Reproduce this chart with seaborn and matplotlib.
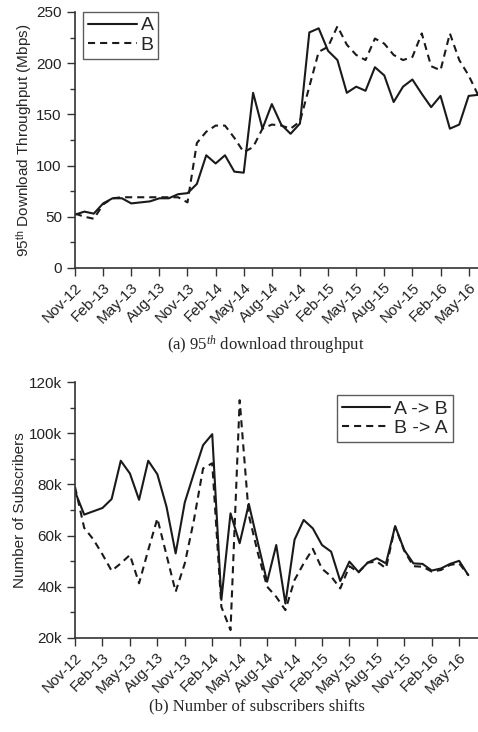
import numpy as np
import pandas as pd
import matplotlib
matplotlib.use("Agg")
import matplotlib.pyplot as plt
from matplotlib.ticker import MultipleLocator, FuncFormatter
import seaborn as sns

sns.set_style("ticks")
plt.rcParams["font.family"] = ["Liberation Sans", "DejaVu Sans"]
plt.rcParams["mathtext.fontset"] = "custom"
plt.rcParams["mathtext.rm"] = "Liberation Sans"
plt.rcParams["mathtext.it"] = "Liberation Serif:italic"

# monthly data, Nov-12 .. Jun-16
months = pd.date_range("2012-11-01", "2016-06-01", freq="MS").strftime("%b-%y").tolist()
tick_labels = months[::3]

# 95th percentile download throughput (Mbps)
thr_A = [52, 55, 53, 63, 68, 68, 63, 64, 65, 68, 68, 72, 73, 82, 110, 102, 110, 94, 93, 171,
         136, 160, 140, 131, 141, 230, 234, 212, 203, 171, 177, 173, 196, 188, 162, 177, 184,
         170, 157, 168, 136, 140, 168, 169]
thr_B = [53, 50, 48, 62, 68, 69, 69, 69, 69, 69, 69, 69, 64, 122, 133, 139, 139, 127, 113, 118,
         136, 140, 139, 136, 143, 177, 211, 216, 236, 218, 208, 203, 224, 219, 208, 203, 206,
         229, 197, 193, 229, 203, 188, 169]

# subscriber shifts (thousands)
shift_AB = [77.2, 68.2, 69.5, 70.8, 74.3, 89.3, 84.3, 74.0, 89.3, 84.0, 71.3, 53.0, 73.0, 84.4,
            95.4, 99.7, 34.8, 68.7, 57.0, 72.4, 57.0, 41.9, 56.3, 33.4, 58.4, 66.1, 62.8, 56.3,
            53.7, 42.2, 49.8, 45.7, 49.4, 51.1, 49.1, 63.7, 54.3, 49.1, 48.9, 46.3, 47.1, 48.9,
            50.1, 44.5]
shift_BA = [79.0, 63.0, 58.5, 52.6, 46.2, 49.1, 52.4, 41.3, 54.3, 66.7, 52.4, 38.0, 49.1, 66.1,
            86.3, 88.3, 32.1, 23.0, 113.0, 68.0, 53.0, 40.0, 36.0, 30.8, 42.6, 49.1, 54.8, 47.0,
            44.0, 39.3, 48.0, 45.6, 49.4, 49.8, 47.2, 63.5, 54.0, 48.0, 47.8, 45.9, 46.5, 48.5,
            49.1, 44.5]

df = pd.DataFrame({"idx": np.arange(len(months)), "month": months,
                   "A": thr_A, "B": thr_B, "AB": shift_AB, "BA": shift_BA})

dash = (0, (3.4, 2.4))
fig = plt.figure(figsize=(4.78, 7.32), dpi=100)
ax1 = fig.add_axes([0.157, 0.634, 0.843, 0.3497])
ax2 = fig.add_axes([0.157, 0.1288, 0.843, 0.3489])


def style_axis(ax, xmax):
    ax.set_xlim(0, xmax)
    ax.set_xticks(np.arange(0, len(months), 3))
    ax.set_xticklabels(tick_labels, rotation=45, ha="right", rotation_mode="anchor")
    ax.tick_params(axis="both", which="major", direction="out", length=6, width=1,
                   labelsize=11, color="#333333", labelcolor="#222222")
    ax.tick_params(axis="y", which="minor", direction="out", length=3.5, width=1, color="#333333")
    ax.tick_params(axis="x", which="major", pad=3)
    for s in ["top", "right"]:
        ax.spines[s].set_visible(False)
    for s in ["left", "bottom"]:
        ax.spines[s].set_linewidth(1.2)
        ax.spines[s].set_color("#333333")


# --- (a) throughput ---
sns.lineplot(data=df, x="idx", y="A", ax=ax1, color="#1a1a1a", lw=1.5, label="A")
sns.lineplot(data=df, x="idx", y="B", ax=ax1, color="#1a1a1a", lw=1.5, ls=dash, label="B")
style_axis(ax1, len(months) - 1)
ax1.set_ylim(0, 250)
ax1.yaxis.set_major_locator(MultipleLocator(50))
ax1.yaxis.set_minor_locator(MultipleLocator(25))
ax1.set_xlabel("")
ax1.set_ylabel(r"95$^{\mathrm{th}}$ Download Throughput (Mbps)", fontsize=11, labelpad=1)
leg = ax1.legend(loc="upper left", bbox_to_anchor=(0.02, 1.0), fontsize=14, frameon=True,
                 fancybox=False, edgecolor="#333333", handlelength=2.5, handletextpad=0.2,
                 borderpad=0.25, labelspacing=0.1, borderaxespad=0)
leg.get_frame().set_linewidth(1.0)

# --- (b) subscribers ---
sns.lineplot(data=df, x="idx", y="AB", ax=ax2, color="#1a1a1a", lw=1.5, label="A -> B")
sns.lineplot(data=df, x="idx", y="BA", ax=ax2, color="#1a1a1a", lw=1.5, ls=dash, label="B -> A")
style_axis(ax2, len(months) + 0.06)
ax2.set_ylim(20, 120)
ax2.yaxis.set_major_locator(MultipleLocator(20))
ax2.yaxis.set_minor_locator(MultipleLocator(10))
ax2.yaxis.set_major_formatter(FuncFormatter(lambda v, p: f"{int(v)}k"))
ax2.set_xlabel("")
ax2.set_ylabel("Number of Subscribers", fontsize=11, labelpad=1)
leg2 = ax2.legend(loc="upper right", bbox_to_anchor=(0.937, 0.95), fontsize=14, frameon=True,
                  fancybox=False, edgecolor="#333333", handlelength=2.5, handletextpad=0.2,
                  borderpad=0.25, labelspacing=0.1, borderaxespad=0)
leg2.get_frame().set_linewidth(1.0)

fig.text(0.555, 1 - 345 / 732, r"(a) 95$^{th}$ download throughput", ha="center", va="center",
         fontsize=12, family="Liberation Serif")
fig.text(0.537, 1 - 706 / 732, "(b) Number of subscribers shifts", ha="center", va="center",
         fontsize=12, family="Liberation Serif")

fig.savefig("out.png", dpi=100)
plt.close(fig)
